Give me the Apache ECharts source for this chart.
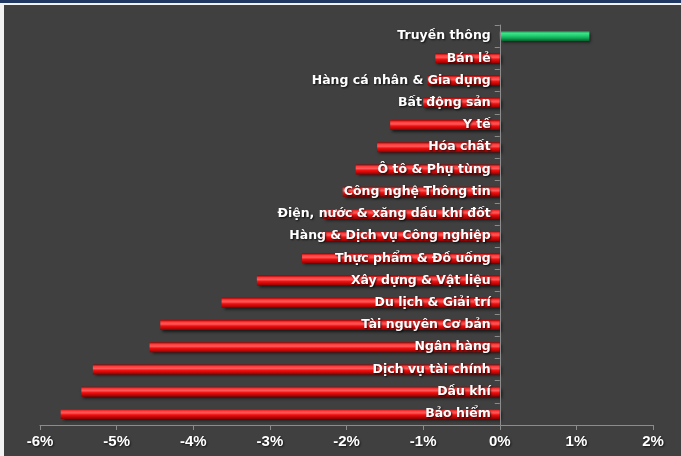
<!DOCTYPE html>
<html>
<head>
<meta charset="utf-8">
<script src="https://cdn.jsdelivr.net/npm/echarts@6/dist/echarts.min.js"></script>
<style>
html,body{margin:0;padding:0;width:681px;height:456px;overflow:hidden;background:#404040;}
#topband{position:absolute;left:0;top:0;width:681px;height:3px;background:#1f3864;}
#topline{position:absolute;left:0;top:3px;width:681px;height:2px;background:#f2f2f2;}
#leftline{position:absolute;left:0;top:3px;width:4px;height:453px;background:#f2f2f2;}
#chart{position:absolute;left:0;top:0;width:681px;height:456px;}
</style>
</head>
<body>
<div id="topband"></div><div id="topline"></div><div id="leftline"></div>
<div id="chart"></div>
<script>
const categories = [
  "Truyền thông", "Bán lẻ", "Hàng cá nhân & Gia dụng", "Bất động sản", "Y tế",
  "Hóa chất", "Ô tô & Phụ tùng", "Công nghệ Thông tin", "Điện, nước & xăng dầu khí đốt",
  "Hàng & Dịch vụ Công nghiệp", "Thực phẩm & Đồ uống", "Xây dựng & Vật liệu",
  "Du lịch & Giải trí", "Tài nguyên Cơ bản", "Ngân hàng", "Dịch vụ tài chính",
  "Dầu khí", "Bảo hiểm"
];
const changes = [
  1.17, -0.84, -0.94, -1.0, -1.43,
  -1.6, -1.88, -2.05, -2.31,
  -2.32, -2.58, -3.17,
  -3.63, -4.43, -4.57, -5.31,
  -5.46, -5.73
];
const xTicks = { min: -6, max: 2, interval: 1 };

const redGrad = new echarts.graphic.LinearGradient(0, 0, 0, 1, [
  { offset: 0, color: '#a00000' },
  { offset: 0.2, color: '#ff3a3a' },
  { offset: 0.4, color: '#ff5a5a' },
  { offset: 0.6, color: '#f01010' },
  { offset: 1, color: '#900000' }
]);
const greenGrad = new echarts.graphic.LinearGradient(0, 0, 0, 1, [
  { offset: 0, color: '#0c7a3c' },
  { offset: 0.2, color: '#3de58a' },
  { offset: 0.45, color: '#22d070' },
  { offset: 0.7, color: '#10a855' },
  { offset: 1, color: '#0a5c2c' }
]);

const gridLeft = 40, gridRight = 28;
const chartW = 681;
const plotW = chartW - gridLeft - gridRight;
// shift the category axis so it sits on x = 0 of the value axis
const zeroOffset = -plotW * (0 - xTicks.min) / (xTicks.max - xTicks.min);

const chart = echarts.init(document.getElementById('chart'), null, { renderer: 'canvas' });
chart.setOption({
  backgroundColor: 'transparent',
  animation: false,
  grid: { left: gridLeft, right: gridRight, top: 25, bottom: 31, containLabel: false, outerBoundsMode: 'none' },
  xAxis: {
    type: 'value',
    min: xTicks.min, max: xTicks.max, interval: xTicks.interval,
    splitLine: { show: false },
    axisLine: { show: true, lineStyle: { color: '#8c8c8c', width: 1 } },
    axisTick: { show: true, length: 5, lineStyle: { color: '#8c8c8c' } },
    axisLabel: {
      color: '#ffffff', fontWeight: 'bold', fontSize: 15,
      fontFamily: 'Liberation Sans, Arial, sans-serif',
      margin: 9,
      formatter: v => v + '%',
      textShadowColor: 'rgba(0,0,0,0.7)', textShadowBlur: 2, textShadowOffsetX: 1, textShadowOffsetY: 1
    }
  },
  yAxis: {
    type: 'category',
    data: categories,
    inverse: true,
    z: 10,
    offset: zeroOffset,
    axisLine: { show: true, onZero: false, lineStyle: { color: '#8c8c8c', width: 1 } },
    axisTick: { show: true, length: 5, lineStyle: { color: '#8c8c8c' } },
    axisLabel: {
      color: '#ffffff', fontWeight: 'bold', fontSize: 12.5,
      fontFamily: 'DejaVu Sans, sans-serif',
      margin: 9,
      textShadowColor: 'rgba(0,0,0,0.8)', textShadowBlur: 2, textShadowOffsetX: 1, textShadowOffsetY: 1
    }
  },
  series: [{
    type: 'bar',
    barWidth: 10,
    data: changes.map(v => ({
      value: v,
      itemStyle: {
        color: v >= 0 ? greenGrad : redGrad,
        shadowColor: 'rgba(0,0,0,0.6)', shadowBlur: 3, shadowOffsetX: 2, shadowOffsetY: 2
      }
    }))
  }]
});
</script>
</body>
</html>
